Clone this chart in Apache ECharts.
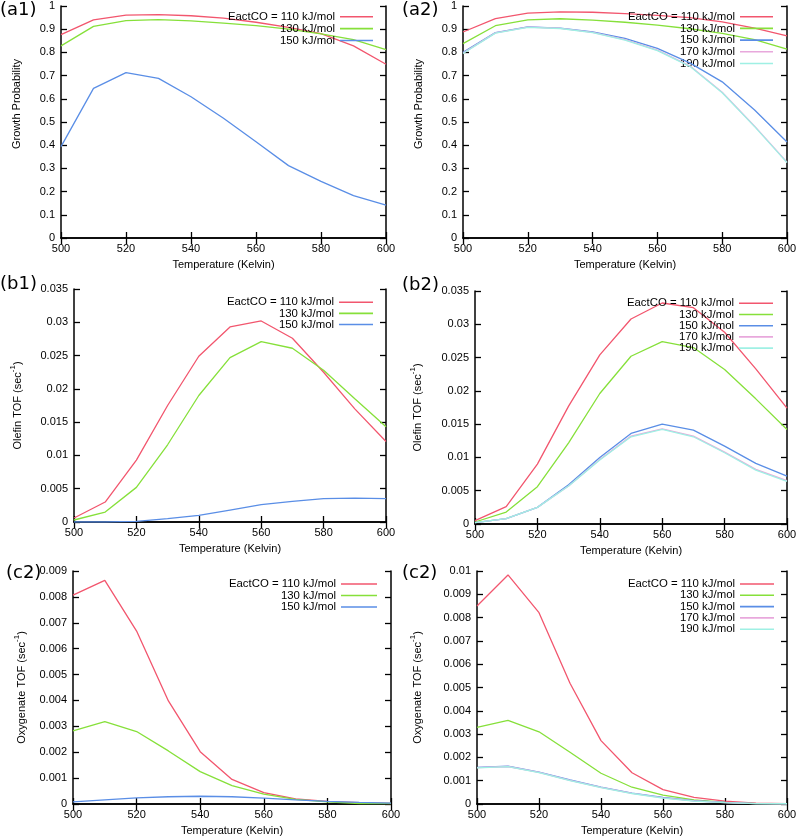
<!DOCTYPE html>
<html>
<head>
<meta charset="utf-8">
<script src="https://cdn.jsdelivr.net/npm/echarts@6/dist/echarts.min.js"></script>
<style>html,body{margin:0;padding:0;background:#fff}#c{width:800px;height:840px}</style>
</head>
<body>
<div id="c"></div>
<script>
// ---------- data ----------
const temps = [500, 510, 520, 530, 540, 550, 560, 570, 580, 590, 600];
const xTicks = [500, 520, 540, 560, 580, 600];
const seriesNames = ['EactCO = 110 kJ/mol', '130 kJ/mol', '150 kJ/mol', '170 kJ/mol', '190 kJ/mol'];

const a1_110 = [0.877, 0.940, 0.961, 0.963, 0.958, 0.948, 0.930, 0.908, 0.881, 0.828, 0.749];
const a1_130 = [0.828, 0.912, 0.937, 0.941, 0.936, 0.926, 0.915, 0.900, 0.880, 0.855, 0.812];
const a1_150 = [0.394, 0.645, 0.713, 0.688, 0.609, 0.516, 0.415, 0.312, 0.244, 0.183, 0.142];

const a2_110 = [0.888, 0.946, 0.969, 0.975, 0.973, 0.967, 0.960, 0.950, 0.932, 0.905, 0.871];
const a2_130 = [0.838, 0.915, 0.940, 0.945, 0.939, 0.930, 0.918, 0.902, 0.882, 0.855, 0.814];
const a2_150 = [0.800, 0.885, 0.910, 0.905, 0.888, 0.860, 0.817, 0.755, 0.673, 0.552, 0.414];
const a2_170 = [0.797, 0.884, 0.909, 0.904, 0.886, 0.855, 0.810, 0.742, 0.628, 0.482, 0.327];
const a2_190 = [0.795, 0.883, 0.908, 0.903, 0.885, 0.853, 0.808, 0.740, 0.626, 0.480, 0.325];

const b1_110 = [0.0006, 0.0030, 0.0093, 0.0175, 0.0249, 0.0293, 0.0302, 0.0276, 0.0225, 0.0170, 0.0121];
const b1_130 = [0.0003, 0.0015, 0.0052, 0.0116, 0.0190, 0.0247, 0.0271, 0.0261, 0.0228, 0.0185, 0.0143];
const b1_150 = [0.0000, 0.0000, 0.0001, 0.0005, 0.0010, 0.0018, 0.0026, 0.0031, 0.0035, 0.0036, 0.0035];

const b2_110 = [0.0005, 0.0026, 0.0090, 0.0177, 0.0254, 0.0308, 0.0332, 0.0325, 0.0288, 0.0233, 0.0174];
const b2_130 = [0.0003, 0.0018, 0.0056, 0.0122, 0.0196, 0.0252, 0.0274, 0.0265, 0.0232, 0.0188, 0.0142];
const b2_150 = [0.0002, 0.0008, 0.0025, 0.0059, 0.0100, 0.0136, 0.0150, 0.0141, 0.0117, 0.0091, 0.0072];
const b2_170 = [0.0002, 0.0008, 0.0025, 0.0057, 0.0097, 0.0132, 0.0143, 0.0132, 0.0108, 0.0082, 0.0065];
const b2_190 = [0.0002, 0.0008, 0.0025, 0.0057, 0.0096, 0.0131, 0.0142, 0.0131, 0.0107, 0.0081, 0.0064];

const c1_110 = [0.00807, 0.00864, 0.00668, 0.00398, 0.00202, 0.00095, 0.00044, 0.00020, 0.00010, 0.00005, 0.00002];
const c1_130 = [0.00282, 0.00318, 0.00280, 0.00205, 0.00125, 0.00071, 0.00038, 0.00018, 0.00008, 0.00002, 0.00002];
const c1_150 = [0.00008, 0.00016, 0.00024, 0.00028, 0.00030, 0.00028, 0.00023, 0.00016, 0.00010, 0.00006, 0.00003];

const c2_110 = [0.00850, 0.00983, 0.00821, 0.00518, 0.00272, 0.00134, 0.00062, 0.00028, 0.00012, 0.00004, 0.00001];
const c2_130 = [0.00329, 0.00359, 0.00310, 0.00222, 0.00132, 0.00072, 0.00038, 0.00018, 0.00007, 0.00002, 0.00001];
const c2_150 = [0.00157, 0.00162, 0.00137, 0.00103, 0.00072, 0.00047, 0.00028, 0.00014, 0.00007, 0.00002, 0.00001];
const c2_170 = [0.00156, 0.00161, 0.00136, 0.00101, 0.00071, 0.00046, 0.00026, 0.00013, 0.00006, 0.00002, 0.00001];
const c2_190 = [0.00155, 0.00160, 0.00135, 0.00100, 0.00070, 0.00045, 0.00025, 0.00012, 0.00006, 0.00002, 0.00001];

// ---------- style / layout ----------
const colors = ['#f2566e', '#86e03a', '#5a8ee6', '#e8a8dc', '#9ff0e4'];
const FONT = '"Liberation Sans", Arial, Helvetica, sans-serif';
const yNameA = 'Growth Probability';
const yNameB = '{n|Olefin TOF (sec}{s|-1}{n|)}';
const yNameC = '{n|Oxygenate TOF (sec}{s|-1}{n|)}';

const panels = [
  { label: '(a1)', lx: 0, ly: 11, grid: { left: 61, top: 6, width: 325, height: 232 }, ymax: 1, yint: 0.1,
    yname: yNameA, ygap: 39, yshift: 36, data: [a1_110, a1_130, a1_150],
    legRight: 427, legTop: 16.7, legStep: 11.9, iconW: 33 },
  { label: '(a2)', lx: 402, ly: 11.5, grid: { left: 463, top: 6, width: 324, height: 232 }, ymax: 1, yint: 0.1,
    yname: yNameA, ygap: 39, yshift: 36, data: [a2_110, a2_130, a2_150, a2_170, a2_190],
    legRight: 27, legTop: 16.7, legStep: 11.7, iconW: 33 },
  { label: '(b1)', lx: 0, ly: 285, grid: { left: 74, top: 289, width: 312, height: 233 }, ymax: 0.035, yint: 0.005,
    yname: yNameB, ygap: 51, yshift: 0, data: [b1_110, b1_130, b1_150],
    legRight: 427, legTop: 302.3, legStep: 11.1, iconW: 34 },
  { label: '(b2)', lx: 402, ly: 286, grid: { left: 475, top: 291, width: 312, height: 233 }, ymax: 0.035, yint: 0.005,
    yname: yNameB, ygap: 52, yshift: 0, data: [b2_110, b2_130, b2_150, b2_170, b2_190],
    legRight: 27, legTop: 303.3, legStep: 11.2, iconW: 34 },
  { label: '(c2)', lx: 6, ly: 574, grid: { left: 73, top: 571, width: 318, height: 233 }, ymax: 0.009, yint: 0.001,
    yname: yNameC, ygap: 46, yshift: 0, data: [c1_110, c1_130, c1_150],
    legRight: 423, legTop: 584, legStep: 11.5, iconW: 36 },
  { label: '(c2)', lx: 402, ly: 574, grid: { left: 477, top: 571, width: 310, height: 233 }, ymax: 0.01, yint: 0.001,
    yname: yNameC, ygap: 54, yshift: 0, data: [c2_110, c2_130, c2_150, c2_170, c2_190],
    legRight: 26, legTop: 584, legStep: 11.3, iconW: 34 }
];

const axisLine = { show: true, lineStyle: { color: '#000', width: 1.5 } };
const axisTick = { show: true, inside: true, length: 6, lineStyle: { color: '#000', width: 1.3 } };
const labelStyle = { color: '#000', fontSize: 11, fontFamily: FONT };

const option = {
  backgroundColor: '#fff',
  animation: false,
  grid: [], xAxis: [], yAxis: [], series: [], legend: [], graphic: []
};

panels.forEach((p, i) => {
  option.grid.push(Object.assign({ containLabel: false }, p.grid));
  // bottom x
  option.xAxis.push({
    type: 'value', gridIndex: i, position: 'bottom', min: xTicks[0], max: xTicks[xTicks.length - 1], interval: 20,
    axisLine, axisTick, splitLine: { show: false },
    axisLabel: Object.assign({ margin: 5 }, labelStyle),
    name: 'Temperature (Kelvin)', nameLocation: 'middle', nameGap: 21,
    nameTextStyle: { color: '#000', fontSize: 11, fontFamily: FONT }
  });
  // top x (mirror)
  option.xAxis.push({
    type: 'value', gridIndex: i, position: 'top', min: xTicks[0], max: xTicks[xTicks.length - 1], interval: 20,
    axisLine, axisTick, splitLine: { show: false }, axisLabel: { show: false }
  });
  // left y
  option.yAxis.push({
    type: 'value', gridIndex: i, position: 'left', min: 0, max: p.ymax, interval: p.yint,
    axisLine, axisTick, splitLine: { show: false },
    axisLabel: Object.assign({ margin: 6 }, labelStyle),
    name: p.yname, nameLocation: 'middle', nameGap: p.ygap, nameRotate: 90,
    nameTextStyle: {
      color: '#000', fontSize: 11, fontFamily: FONT, padding: [0, 0, 0, p.yshift],
      rich: {
        n: { fontSize: 11, fontFamily: FONT, color: '#000', lineHeight: 14, verticalAlign: 'bottom' },
        s: { fontSize: 8, fontFamily: FONT, color: '#000', lineHeight: 9, verticalAlign: 'top' }
      }
    }
  });
  // right y (mirror)
  option.yAxis.push({
    type: 'value', gridIndex: i, position: 'right', min: 0, max: p.ymax, interval: p.yint,
    axisLine, axisTick, splitLine: { show: false }, axisLabel: { show: false }
  });

  p.data.forEach((vals, k) => {
    option.series.push({
      type: 'line', name: seriesNames[k], xAxisIndex: 2 * i, yAxisIndex: 2 * i,
      data: temps.map((t, j) => [t, vals[j]]),
      symbol: 'none', showSymbol: false, color: colors[k],
      lineStyle: { color: colors[k], width: 1.3 }, z: 2 + k, silent: true
    });
    option.legend.push({
      data: [seriesNames[k]], orient: 'vertical', align: 'right',
      right: p.legRight, top: p.legTop + k * p.legStep - 6, padding: 0,
      icon: 'rect', itemWidth: p.iconW, itemHeight: 1.6,
      selectedMode: false,
      textStyle: { color: '#000', fontSize: 11.4, fontFamily: FONT, lineHeight: 12 }
    });
  });

  option.graphic.push({
    type: 'text', left: p.lx, top: p.ly - 10,
    style: { text: p.label, fontSize: 18, fontFamily: '"DejaVu Sans", sans-serif', fill: '#000' }
  });
});

const chart = echarts.init(document.getElementById('c'), null, { renderer: 'canvas' });
chart.setOption(option);
</script>
</body>
</html>
